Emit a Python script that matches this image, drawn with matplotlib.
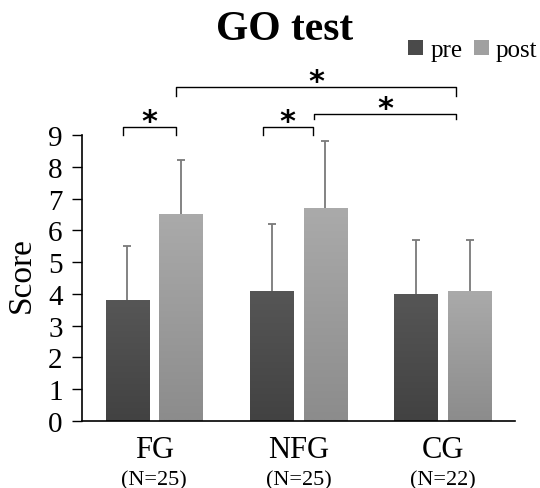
import numpy as np
import matplotlib
matplotlib.use("Agg")
import matplotlib.pyplot as plt
from matplotlib.patches import Patch
import matplotlib.transforms as mtransforms

plt.rcParams['font.family'] = ['Liberation Serif', 'DejaVu Serif']

groups = ["FG", "NFG", "CG"]
group_n = ["(N=25)", "(N=25)", "(N=22)"]
pre_mean = [3.8, 4.1, 4.0]
pre_err = [1.7, 2.1, 1.7]
post_mean = [6.5, 6.7, 4.1]
post_err = [1.7, 2.1, 1.6]
series_labels = ["pre", "post"]
yticks = [0, 1, 2, 3, 4, 5, 6, 7, 8, 9]

# significance brackets: (x_start, x_end, y_bar, y_tip_bottom, label)
brackets = [
    (-0.218, 0.149, 9.25, 9.0, "*"),
    (0.751, 1.097, 9.25, 9.0, "*"),
    (0.149, 2.093, 10.5, 10.22, "*"),
    (1.11, 2.093, 9.66, 9.5, "*"),
]

fig = plt.figure(figsize=(5.40, 4.89), dpi=100)
ax = fig.add_axes([0.1519, 0.137, 0.8018, 0.585])

x = np.arange(len(groups))
off = 0.185
w = 0.30

pre_cols = ("#565656", "#424242")
post_cols = ("#aaaaaa", "#8c8c8c")

def grad_bars(xs, vals, cols):
    bars = ax.bar(xs, vals, width=w, color=cols[1], edgecolor='none', zorder=2)
    for b in bars:
        x0, y0 = b.get_x(), b.get_y()
        bw, bh = b.get_width(), b.get_height()
        c0 = np.array(matplotlib.colors.to_rgb(cols[0]))
        c1 = np.array(matplotlib.colors.to_rgb(cols[1]))
        t = np.linspace(0, 1, 64)[:, None]
        img = (c0[None, :] * (1 - t) + c1[None, :] * t)[:, None, :]
        im = ax.imshow(img, extent=[x0, x0 + bw, y0, y0 + bh], origin='upper',
                       aspect='auto', zorder=2.5, interpolation='bilinear')
        im.set_clip_path(b)
    return bars

grad_bars(x - off, pre_mean, pre_cols)
grad_bars(x + off, post_mean, post_cols)

for xs, m, e in [(x - off, pre_mean, pre_err), (x + off, post_mean, post_err)]:
    eb = ax.errorbar(xs, m, yerr=[np.zeros(3), e], fmt='none',
                     ecolor='#7a7a7a', elinewidth=1.3, capsize=3, capthick=1.3,
                     zorder=1.5)
    for cl in eb[1]:
        if np.allclose(cl.get_ydata(), m):
            cl.set_visible(False)

ax.set_xlim(-0.5, 2.5)
ax.set_ylim(0, 9)
ax.set_yticks(yticks)
ax.set_yticklabels([str(v) for v in yticks], fontsize=21)
ax.tick_params(axis='y', length=7, width=1, pad=7, direction='out')
ax.set_xticks(x)
ax.set_xticklabels(groups, fontsize=22)
ax.tick_params(axis='x', length=0, pad=10)
trans = mtransforms.blended_transform_factory(ax.transData, fig.transFigure)
for lab, n in zip(x, group_n):
    ax.text(lab, 0.017, n, transform=trans, ha='center', va='center', fontsize=16)

for s in ['top', 'right']:
    ax.spines[s].set_visible(False)
for s in ['left', 'bottom']:
    ax.spines[s].set_linewidth(1.2)
    ax.spines[s].set_color('black')

fig.text(0.040, 0.438, "Score", rotation=90, ha='center', va='center', fontsize=24)

for x0, x1, yb, yt, lab in brackets:
    ax.plot([x0, x0, x1, x1], [yt, yb, yb, yt], color='black', lw=1.0,
            clip_on=False, zorder=4)
    ax.text((x0 + x1) / 2, yb - 0.28, lab, ha='center', va='bottom',
            fontsize=22, fontweight='bold', family=['DejaVu Sans'], clip_on=False)

fig.text(0.527, 0.938, "GO test", ha='center', va='center', fontsize=30,
         fontweight='bold')

handles = [Patch(facecolor='#4a4a4a', edgecolor='none'),
           Patch(facecolor='#a0a0a0', edgecolor='none')]
fig.legend(handles, series_labels, loc='center right',
           bbox_to_anchor=(1.0, 0.895), ncol=2, frameon=False, fontsize=18,
           handlelength=0.6, handleheight=0.6, handletextpad=0.3,
           columnspacing=0.45, borderpad=0.05, borderaxespad=0.05)

fig.savefig("out.png", dpi=100)
